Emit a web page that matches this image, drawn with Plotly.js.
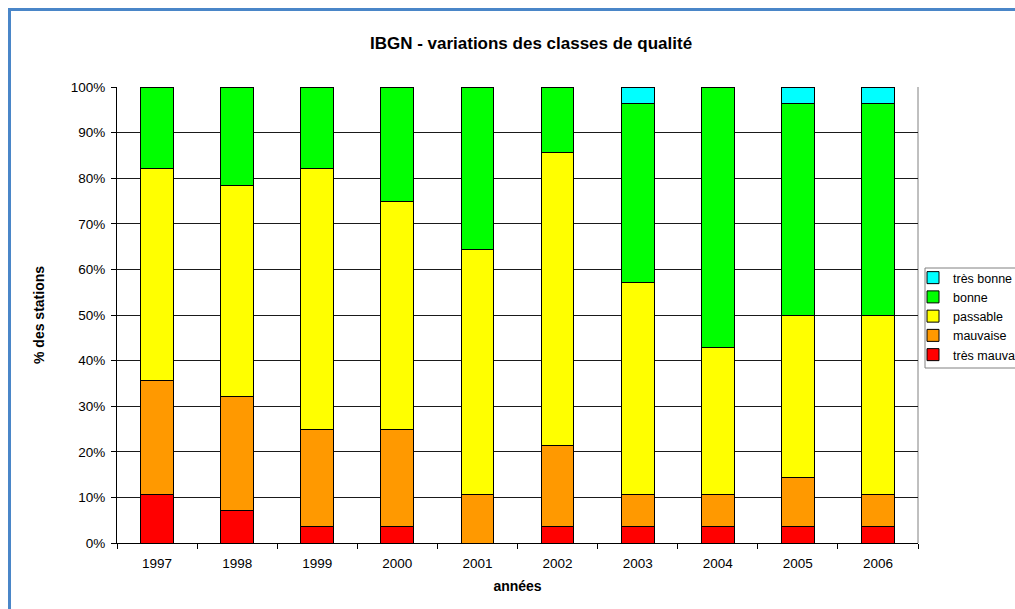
<!DOCTYPE html>
<html>
<head>
<meta charset="utf-8">
<script src="https://cdn.plot.ly/plotly-3.0.1.min.js"></script>
<style>
html,body{margin:0;padding:0;background:#fff;overflow:hidden;}
#wrap{position:relative;width:1015px;height:609px;overflow:hidden;}
#chart{position:absolute;left:0;top:0;width:1015px;height:609px;}
#frame{position:absolute;left:8px;top:8px;width:1100px;height:700px;border:3px solid #4a86c8;box-sizing:border-box;pointer-events:none;}
</style>
</head>
<body>
<div id="wrap"><div id="chart"></div><div id="frame"></div></div>
<script>
const years = ['1997','1998','1999','2000','2001','2002','2003','2004','2005','2006'];
const tresMauvaise = [10.7, 7.1, 3.6, 3.6, 0.0, 3.6, 3.6, 3.6, 3.6, 3.6];
const mauvaise     = [25.0, 25.0, 21.4, 21.4, 10.7, 17.8, 7.1, 7.1, 10.7, 7.1];
const passable     = [46.4, 46.4, 57.1, 50.0, 53.6, 64.3, 46.4, 32.1, 35.7, 39.3];
const bonne        = [17.9, 21.5, 17.9, 25.0, 35.7, 14.3, 39.3, 57.2, 46.4, 46.4];
const tresBonne    = [0.0, 0.0, 0.0, 0.0, 0.0, 0.0, 3.6, 0.0, 3.6, 3.6];
const seriesNames  = ['très mauvaise','mauvaise','passable','bonne','très bonne'];
const seriesColors = ['#ff0000','#ff9900','#ffff00','#00ff00','#00ffff'];
const seriesData   = [tresMauvaise, mauvaise, passable, bonne, tresBonne];

const traces = seriesData.map((d,i)=>({
  type:'bar', x: years, y: d, name: seriesNames[i],
  marker:{color: seriesColors[i], line:{color:'#000', width:1}},
  hoverinfo:'x+y+name'
}));

const W=1015,H=609;
const L=117,R=918,T=87,B=543;
const px2x = p => (p-L)/(R-L);
const px2y = p => (B-p)/(B-T);
const layout = {
  width:W, height:H,
  margin:{l:L, r:W-R, t:T, b:H-B, pad:0, autoexpand:false},
  paper_bgcolor:'rgba(0,0,0,0)', plot_bgcolor:'#fff',
  barmode:'stack', bargap:0.59,
  font:{family:'Arial, Liberation Sans, sans-serif', size:13, color:'#000'},
  title:{text:'<b>IBGN - variations des classes de qualité</b>', font:{size:17, color:'#000'},
         x:531/W, xref:'container', xanchor:'center', y:1-43/H, yref:'container', yanchor:'middle'},
  xaxis:{type:'category', showgrid:false, showline:true, linecolor:'#000', linewidth:1,
         ticks:'outside', tickson:'boundaries', ticklen:5, tickcolor:'#000',
         tickfont:{size:13.5}, ticklabelstandoff:8,
         title:{text:'<b>années</b>', font:{size:14}, standoff:10}},
  yaxis:{range:[0,100], dtick:10, ticksuffix:'%', showgrid:true, gridcolor:'#1a1a1a', gridwidth:1,
         showline:true, linecolor:'#000', linewidth:1, ticks:'outside', ticklen:5, tickcolor:'#000',
         zeroline:false, tickfont:{size:13.5}, ticklabelstandoff:3,
         title:{text:'<b>% des stations</b>', font:{size:14}, standoff:22}},
  legend:{traceorder:'reversed', xref:'container', yref:'container', x:913/W, xanchor:'left',
          y:1-263/H, yanchor:'top', borderwidth:0, bgcolor:'rgba(0,0,0,0)',
          font:{size:12.5}, itemwidth:30, tracegroupgap:0},
  shapes:[
    {type:'line', xref:'paper', yref:'paper', x0:1, x1:1, y0:0, y1:1, line:{color:'#808080', width:1}, layer:'below'},
    {type:'rect', xref:'paper', yref:'paper', x0:px2x(925), x1:px2x(1030), y0:px2y(368), y1:px2y(268),
     line:{color:'#808080', width:1}, fillcolor:'#fff', layer:'below'}
  ],
  showlegend:true
};
Plotly.newPlot('chart', traces, layout, {displayModeBar:false, staticPlot:true});
</script>
</body>
</html>
